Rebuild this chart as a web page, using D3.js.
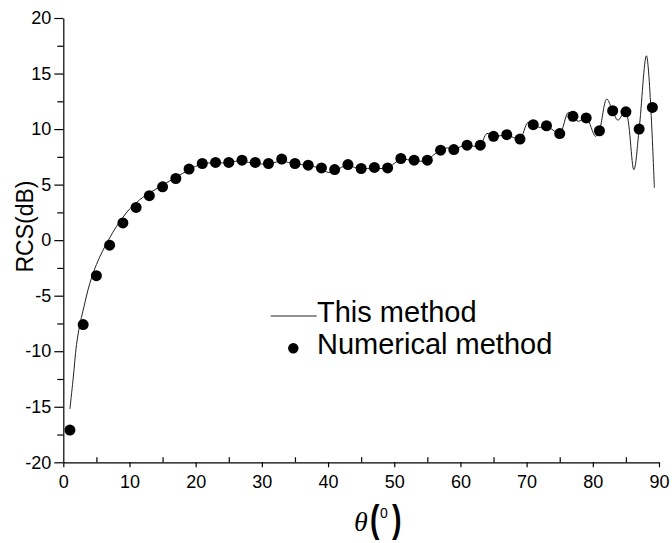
<!DOCTYPE html>
<meta charset="utf-8">
<title>RCS</title>
<style>
body { margin: 0; background: white; }
svg text { font-family: "Liberation Sans", Arial, sans-serif; fill: black; }
.tick text { font-size: 18px; }
</style>
<body>
<script src="https://d3js.org/d3.v7.min.js"></script>
<script>
// dots (numerical method)
var thetaDots = [1,3,5,7,9,11,13,15,17,19,21,23,25,27,29,31,33,35,37,39,41,43,45,
  47,49,51,53,55,57,59,61,63,65,67,69,71,73,75,77,79,81,83,85,87,89];
var rcsDots = [-17.1,-7.6,-3.2,-0.45,1.55,2.95,4.0,4.8,5.55,6.4,6.9,7.0,7.0,7.2,7.0,
  6.9,7.3,6.9,6.75,6.5,6.35,6.8,6.45,6.55,6.5,7.35,7.2,7.2,8.1,8.15,8.55,8.55,9.35,
  9.5,9.1,10.4,10.3,9.6,11.15,11.0,9.85,11.65,11.55,10.0,11.95];

// curve (this method)
var thetaLine = [1,1.5,2,2.5,3,4,5,6,7,8,9,10,11,12,13,14,15,16,17,18,19,20,21,22,
  23,24,25,26,27,28,29,30,31,32,33,34,35,36,37,38,39,40,41,42,43,44,45,46,47,48,49,
  50,51,52,53,54,55,56,57,58,59,60,61,62,63,64,65,66,67,68,69,70.2,71,72,73,74,75,
  76.3,77,77.8,79,80.4,81,82.1,83,83.8,84.9,86.2,87,88.1,89.3];
var rcsLine = [-15.2,-12.4,-9.4,-7.6,-6.3,-3.9,-2.2,-0.9,0.2,1.2,2.05,2.8,3.35,3.85,
  4.25,4.6,4.95,5.3,5.65,6.0,6.35,6.65,6.85,6.95,7.0,6.95,7.0,7.1,7.1,7.0,6.95,6.85,
  6.85,7.0,7.15,7.0,6.9,6.8,6.75,6.6,6.4,6.1,6.2,6.55,6.75,6.55,6.4,6.45,6.5,6.45,6.5,
  6.9,7.3,7.25,7.2,7.1,7.2,7.7,8.1,8.3,8.2,8.4,8.55,8.45,8.55,9.6,9.4,9.4,9.5,9.25,
  9.1,10.6,10.4,10.15,10.3,9.9,9.6,11.5,11.15,10.7,11.0,9.35,9.9,12.7,11.65,10.8,
  11.6,6.35,10.0,16.6,4.7];

var xTicks = [0,10,20,30,40,50,60,70,80,90];
var yTicks = [-20,-15,-10,-5,0,5,10,15,20];

var width = 672, height = 543;
var svg = d3.select("body").append("svg")
    .attr("width", width)
    .attr("height", height);

var x = d3.scaleLinear().domain([0, 90]).range([63.3, 659]);
var y = d3.scaleLinear().domain([-20, 20]).range([462.3, 18]);

// y axis, minor ticks first
svg.append("g")
    .attr("transform", "translate(63.3,0)")
    .call(d3.axisLeft(y).tickValues(d3.range(-17.5, 20, 5)).tickSize(6).tickFormat(""))
    .call(g => g.select(".domain").remove());
svg.append("g")
    .attr("transform", "translate(63.3,0)")
    .call(d3.axisLeft(y).tickValues(yTicks).tickSize(9).tickPadding(3).tickSizeOuter(0)
      .tickFormat(d => String(d)));

// x axis
svg.append("g")
    .attr("transform", "translate(0,462.3)")
    .call(d3.axisTop(x).tickValues(d3.range(5, 90, 10)).tickSize(5).tickFormat(""))
    .call(g => g.select(".domain").remove());
svg.append("g")
    .attr("transform", "translate(0,462.3)")
    .call(d3.axisBottom(x).tickValues(xTicks).tickSize(5).tickPadding(8).tickSizeOuter(0)
      .tickFormat(d => String(d)));

svg.selectAll(".domain, .tick line").attr("stroke", "black").attr("stroke-width", 1.2);

// curve
var line = d3.line()
    .x((d, i) => x(thetaLine[i]))
    .y(d => y(d))
    .curve(d3.curveCatmullRom.alpha(0.5));
svg.append("path")
    .attr("d", line(rcsLine))
    .attr("fill", "none")
    .attr("stroke", "#222")
    .attr("stroke-width", 1);

// dots
svg.selectAll(".dot")
    .data(rcsDots)
  .enter().append("circle")
    .attr("class", "dot")
    .attr("cx", (d, i) => x(thetaDots[i]))
    .attr("cy", d => y(d))
    .attr("r", 5.5)
    .attr("fill", "black");

// legend
svg.append("line")
    .attr("x1", 270.7).attr("x2", 316.7)
    .attr("y1", 316).attr("y2", 316)
    .attr("stroke", "#222").attr("stroke-width", 1);
svg.append("text").attr("x", 317).attr("y", 322)
    .style("font-size", "29px").text("This method");
svg.append("circle").attr("cx", 293.3).attr("cy", 348.3).attr("r", 5.2).attr("fill", "black");
svg.append("text").attr("x", 317).attr("y", 354)
    .style("font-size", "29px").text("Numerical method");

// axis titles
svg.append("text")
    .attr("transform", "translate(33,226.5) rotate(-90)")
    .attr("text-anchor", "middle")
    .style("font-size", "23px")
    .text("RCS(dB)");

var xt = svg.append("g");
xt.append("text").attr("x", 354).attr("y", 531)
    .style("font-family", "'Liberation Serif', 'DejaVu Serif', serif")
    .style("font-style", "italic").style("font-size", "28px")
    .text("θ");
xt.append("text")
    .attr("transform", "translate(370,532) scale(0.75,1)")
    .style("font-size", "38px").style("font-weight", "bold")
    .text("(");
xt.append("text").attr("x", 380).attr("y", 518)
    .style("font-size", "14px")
    .text("0");
xt.append("text")
    .attr("transform", "translate(392,532) scale(0.75,1)")
    .style("font-size", "38px").style("font-weight", "bold")
    .text(")");
</script>
</body>
